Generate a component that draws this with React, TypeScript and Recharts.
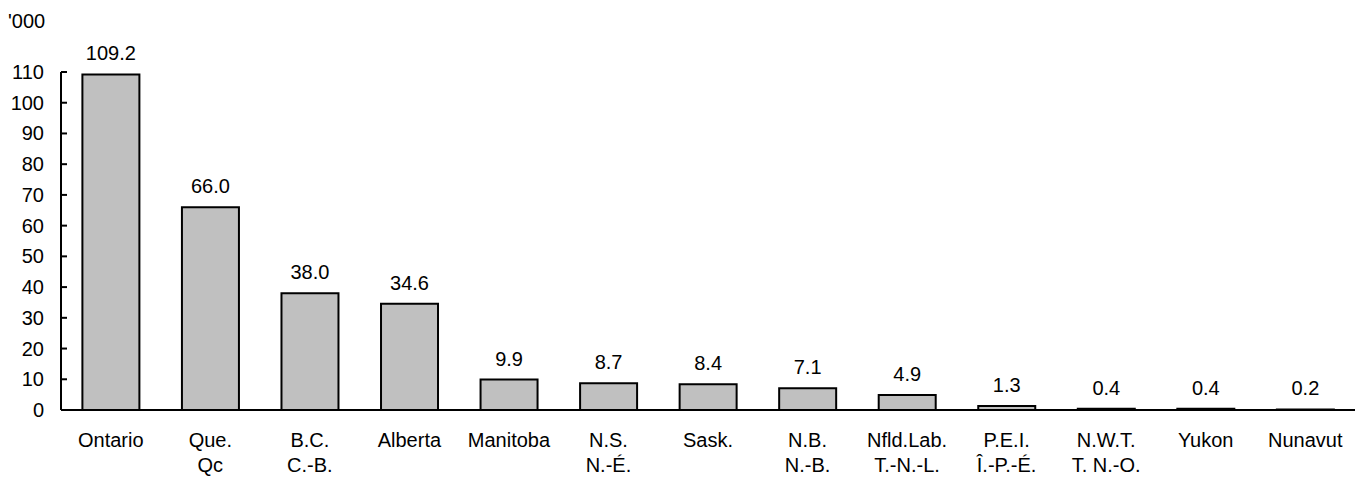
import { Bar, BarChart, LabelList, XAxis, YAxis } from "recharts"

document.body.style.margin = "0"

const regionsEn = ["Ontario", "Que.", "B.C.", "Alberta", "Manitoba", "N.S.", "Sask.", "N.B.", "Nfld.Lab.", "P.E.I.", "N.W.T.", "Yukon", "Nunavut"]
const regionsFr = ["", "Qc", "C.-B.", "", "", "N.-É.", "", "N.-B.", "T.-N.-L.", "Î.-P.-É.", "T. N.-O.", "", ""]
const values = [109.2, 66.0, 38.0, 34.6, 9.9, 8.7, 8.4, 7.1, 4.9, 1.3, 0.4, 0.4, 0.2]
const yTicks = [0, 10, 20, 30, 40, 50, 60, 70, 80, 90, 100, 110]

const data = regionsEn.map((en, i) => ({ en, fr: regionsFr[i], value: values[i] }))

const font = "'Liberation Sans', Arial, sans-serif"
const fs = 20

function YTick({ x, y, payload }: any) {
    return (
        <g>
            <line x1={x} x2={x + 6} y1={y} y2={y} stroke="#000" strokeWidth={2} />
            <text x={x - 17} y={y} dy="0.35em" textAnchor="end" fontSize={fs} fontFamily={font} fill="#000">
                {payload.value}
            </text>
        </g>
    )
}

function XTick({ x, y, index }: any) {
    const d = data[index]
    return (
        <text x={x} textAnchor="middle" fontSize={fs} fontFamily={font} fill="#000">
            <tspan x={x} y={y + 29}>{d.en}</tspan>
            {d.fr && <tspan x={x} y={y + 54}>{d.fr}</tspan>}
        </text>
    )
}

export default function App() {
    return (
        <div style={{ position: "relative", width: 1359, height: 479, background: "#fff", fontFamily: font }}>
            <div style={{ position: "absolute", left: 8, top: 9, fontSize: fs, lineHeight: "24px" }}>'000</div>
            <BarChart width={1359} height={479} data={data} margin={{ top: 72, right: 4, left: 0, bottom: 0 }} barCategoryGap="21.5%">
                <XAxis
                    dataKey="en"
                    interval={0}
                    tickLine={false}
                    height={69}
                    axisLine={{ stroke: "#000", strokeWidth: 2 }}
                    tick={<XTick />}
                />
                <YAxis
                    width={61}
                    domain={[0, 110]}
                    ticks={yTicks}
                    interval={0}
                    tickLine={false}
                    tickSize={0}
                    tickMargin={0}
                    axisLine={{ stroke: "#000", strokeWidth: 2 }}
                    tick={<YTick />}
                />
                <Bar dataKey="value" fill="#C0C0C0" stroke="#000" strokeWidth={2} isAnimationActive={false}>
                    <LabelList
                        dataKey="value"
                        position="top"
                        offset={14}
                        formatter={(v: any) => Number(v).toFixed(1)}
                        style={{ fontSize: fs, fontFamily: font, fill: "#000" }}
                    />
                </Bar>
            </BarChart>
        </div>
    )
}
